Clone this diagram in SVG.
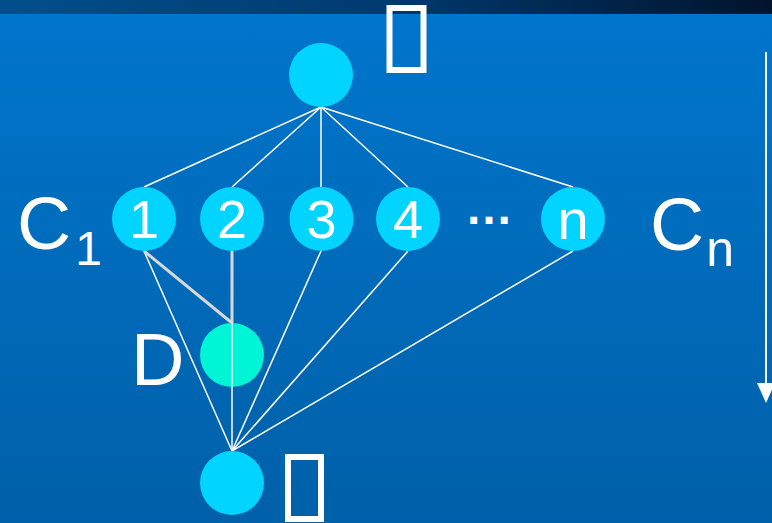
<svg xmlns="http://www.w3.org/2000/svg" width="772" height="523" viewBox="0 0 772 523">
<defs>
<linearGradient id="bg" x1="0" y1="0" x2="0" y2="1">
<stop offset="0" stop-color="#0076cd"/>
<stop offset="1" stop-color="#0060a8"/>
</linearGradient>
<linearGradient id="band" x1="0" y1="0" x2="1" y2="0">
<stop offset="0" stop-color="#004f8c"/>
<stop offset="0.5" stop-color="#003a70"/>
<stop offset="1" stop-color="#00142c"/>
</linearGradient>
<style>
.node{fill:#00d4ff}
.dnode{fill:#00f5d6}
.lbl{font-family:"Liberation Sans",Arial,sans-serif;fill:#ffffff}
.num{font-family:"Liberation Sans",Arial,sans-serif;fill:#ffffff;font-size:54px;text-anchor:middle}
.edge{stroke:#ffffff;stroke-width:1.5;fill:none}
.grey{stroke:#d8d8d8;stroke-width:3;fill:none}
.tofu{fill:none;stroke:#ffffff;stroke-width:6}
</style>
</defs>
<rect x="0" y="0" width="772" height="523" fill="url(#bg)"/>
<rect x="0" y="0" width="772" height="14" fill="url(#band)"/>

<g id="connectors">
<line class="edge" x1="321" y1="107" x2="144" y2="187"/>
<line class="edge" x1="321" y1="107" x2="232" y2="187"/>
<line class="edge" x1="321" y1="107" x2="321" y2="187"/>
<line class="edge" x1="321" y1="107" x2="408" y2="187"/>
<line class="edge" x1="321" y1="107" x2="573" y2="187"/>
<line class="edge" x1="144" y1="251" x2="232" y2="451"/>
<line class="edge" x1="321" y1="251" x2="232" y2="451"/>
<line class="edge" x1="408" y1="251" x2="232" y2="451"/>
<line class="edge" x1="573" y1="251" x2="232" y2="451"/>
<line class="grey" x1="144" y1="251" x2="232" y2="323"/>
<line class="grey" x1="232" y1="251" x2="232" y2="323"/>
<line x1="766" y1="52" x2="766" y2="386" stroke="#ffffff" stroke-width="2"/>
<polygon points="757,383 775,383 766,403" fill="#ffffff"/>
</g>

<g id="node-top"><circle class="node" cx="321" cy="75" r="32"/></g>
<g id="node-1"><circle class="node" cx="144" cy="219" r="32"/><text class="num" x="144" y="238">1</text></g>
<g id="node-2"><circle class="node" cx="232" cy="219" r="32"/><text class="num" x="232" y="238">2</text></g>
<g id="node-3"><circle class="node" cx="321.5" cy="219" r="32"/><text class="num" x="321.5" y="238">3</text></g>
<g id="node-4"><circle class="node" cx="408" cy="219" r="32"/><text class="num" x="408" y="238">4</text></g>
<g id="node-n"><circle class="node" cx="573" cy="219" r="32"/><text class="num" x="573" y="239" style="font-size:56px">n</text></g>
<g id="node-D"><circle class="dnode" cx="232" cy="355" r="32"/></g>
<g id="node-bottom"><circle class="node" cx="232" cy="483" r="32"/></g>

<line class="edge" x1="232" y1="323" x2="232" y2="451"/>

<g id="labels">
<text class="lbl" x="17" y="249" font-size="75">C<tspan font-size="48" dx="4" dy="16">1</tspan></text>
<text class="lbl" x="650" y="250" font-size="75">C<tspan font-size="50" dx="2" dy="16">n</tspan></text>
<text class="lbl" x="131" y="385" font-size="74">D</text>
<text class="lbl" x="465" y="224" font-size="48" font-weight="bold">…</text>
<rect class="tofu" x="389.5" y="8" width="34" height="62"/>
<rect class="tofu" x="288" y="457" width="33" height="62"/>
</g>
</svg>
